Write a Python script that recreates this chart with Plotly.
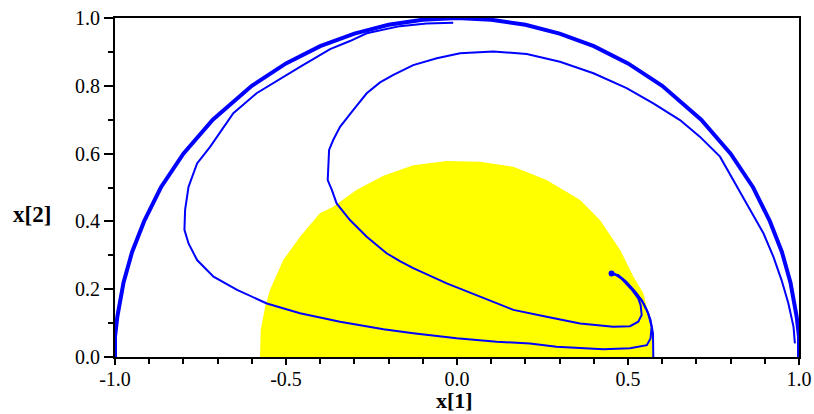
import plotly.graph_objects as go

# ---- data ----
# boundary (thick line)
bound_x = [-1.0, -1.0, -0.993, -0.975, -0.950, -0.915, -0.866, -0.800, -0.714, -0.600, -0.500, -0.400,
           -0.300, -0.200, -0.100, 0.000, 0.100, 0.200, 0.300, 0.400, 0.500, 0.600, 0.714, 0.800,
           0.866, 0.915, 0.950, 0.975, 0.993, 1.0, 1.0]
bound_y = [0.0, 0.06, 0.12, 0.22, 0.31, 0.40, 0.50, 0.60, 0.70, 0.80, 0.866, 0.917,
           0.954, 0.980, 0.995, 1.0, 0.995, 0.980, 0.954, 0.917, 0.866, 0.80, 0.70, 0.60,
           0.50, 0.40, 0.31, 0.22, 0.12, 0.06, 0.0]

# yellow region
region_x = [-0.576, -0.574, -0.561, -0.547, -0.508, -0.459, -0.401, -0.362, -0.293, -0.215, -0.128,
            -0.030, 0.067, 0.165, 0.262, 0.360, 0.418, 0.477, 0.516, 0.545, 0.559, 0.569, 0.574]
region_y = [0.0, 0.08, 0.148, 0.198, 0.286, 0.355, 0.424, 0.443, 0.493, 0.535, 0.566,
            0.578, 0.576, 0.561, 0.522, 0.463, 0.404, 0.316, 0.237, 0.188, 0.129, 0.07, 0.0]

# trajectory A (outer, from the top going left)
traj_a_x = [-0.011, -0.089, -0.167, -0.264, -0.313, -0.371, -0.459, -0.586, -0.654, -0.722, -0.760,
            -0.785, -0.795, -0.797, -0.785, -0.760, -0.712, -0.643, -0.556, -0.459, -0.342, -0.215,
            -0.128, -0.001, 0.116, 0.213, 0.291, 0.428, 0.506, 0.555, 0.566, 0.569, 0.559, 0.545,
            0.525, 0.495, 0.471, 0.452]
traj_a_y = [0.986, 0.984, 0.976, 0.955, 0.932, 0.908, 0.856, 0.778, 0.719, 0.620, 0.571,
            0.502, 0.434, 0.375, 0.335, 0.286, 0.237, 0.198, 0.158, 0.129, 0.104, 0.082,
            0.070, 0.055, 0.045, 0.040, 0.030, 0.023, 0.026, 0.035, 0.055, 0.089, 0.129, 0.158,
            0.188, 0.222, 0.242, 0.245]

# trajectory B (from the right edge, inner loop)
traj_b_x = [0.988, 0.984, 0.969, 0.949, 0.925, 0.896, 0.857, 0.818, 0.769, 0.710, 0.652, 0.574,
            0.496, 0.399, 0.301, 0.204, 0.106, 0.009, -0.059, -0.128, -0.186, -0.225, -0.264,
            -0.303, -0.342, -0.362, -0.374, -0.378, -0.366, -0.352, -0.313, -0.264, -0.206,
            -0.167, -0.128, -0.030, 0.067, 0.165, 0.262, 0.360, 0.457, 0.506, 0.530, 0.540,
            0.537, 0.530, 0.510, 0.480, 0.460, 0.452]
traj_b_y = [0.040, 0.089, 0.158, 0.227, 0.296, 0.365, 0.434, 0.502, 0.591, 0.650, 0.699, 0.748,
            0.793, 0.837, 0.871, 0.894, 0.901, 0.896, 0.881, 0.861, 0.832, 0.810, 0.778,
            0.729, 0.679, 0.640, 0.611, 0.522, 0.493, 0.453, 0.404, 0.355, 0.306,
            0.283, 0.262, 0.217, 0.178, 0.139, 0.119, 0.099, 0.089, 0.091, 0.104, 0.124,
            0.153, 0.173, 0.200, 0.232, 0.245, 0.247]

# trajectory C (from the bottom near x=0.575)
traj_c_x = [0.574, 0.574, 0.573, 0.566, 0.555, 0.540, 0.516, 0.490, 0.470, 0.452]
traj_c_y = [0.000, 0.030, 0.070, 0.109, 0.139, 0.168, 0.198, 0.225, 0.240, 0.248]

end_x = [0.452]
end_y = [0.246]

x_ticks = [-1.0, -0.5, 0.0, 0.5, 1.0]
x_tick_text = ["-1.0", "-0.5", "0.0", "0.5", "1.0"]
y_ticks = [0.0, 0.2, 0.4, 0.6, 0.8, 1.0]
y_tick_text = ["0.0", "0.2", "0.4", "0.6", "0.8", "1.0"]

BLUE = "rgb(0,0,255)"
FONT = "Liberation Serif"

fig = go.Figure()
fig.add_trace(go.Scatter(x=region_x, y=region_y, mode="lines", fill="toself",
                         fillcolor="rgb(255,255,0)", line=dict(width=0, color="rgb(255,255,0)"),
                         hoverinfo="skip"))
fig.add_trace(go.Scatter(x=bound_x, y=bound_y, mode="lines", line=dict(color=BLUE, width=4)))
for tx, ty in [(traj_a_x, traj_a_y), (traj_b_x, traj_b_y), (traj_c_x, traj_c_y)]:
    fig.add_trace(go.Scatter(x=tx, y=ty, mode="lines", line=dict(color=BLUE, width=2)))
fig.add_trace(go.Scatter(x=end_x, y=end_y, mode="markers", marker=dict(color=BLUE, size=6)))

axis_common = dict(showgrid=False, zeroline=False, showline=True, linecolor="black", linewidth=2,
                   mirror=True, ticks="outside", tickcolor="black", tickwidth=2, automargin=False,
                   tickfont=dict(family=FONT, size=20, color="black"))
fig.update_xaxes(range=[-1, 1], tickvals=x_ticks, ticktext=x_tick_text, ticklen=6,
                 ticklabelstandoff=-3,
                 minor=dict(dtick=0.1, ticks="outside", ticklen=5, tickcolor="black", tickwidth=2),
                 **axis_common)
fig.update_yaxes(range=[0, 1], tickvals=y_ticks, ticktext=y_tick_text, ticklen=9,
                 minor=dict(dtick=0.1, ticks="outside", ticklen=5, tickcolor="black", tickwidth=2),
                 **axis_common)

fig.add_annotation(text="<b>x[1]</b>", xref="paper", yref="paper", x=0.497, y=-0.127,
                   showarrow=False, xanchor="center", yanchor="middle",
                   font=dict(family=FONT, size=22, color="black"))
fig.add_annotation(text="<b>x[2]</b>", xref="paper", yref="paper", x=-0.121, y=0.419,
                   showarrow=False, xanchor="center", yanchor="middle",
                   font=dict(family=FONT, size=23, color="black"))

fig.update_layout(width=814, height=414, margin=dict(l=115, r=15, t=18, b=57),
                  plot_bgcolor="white", paper_bgcolor="white", showlegend=False)

fig.write_html("out.html")
